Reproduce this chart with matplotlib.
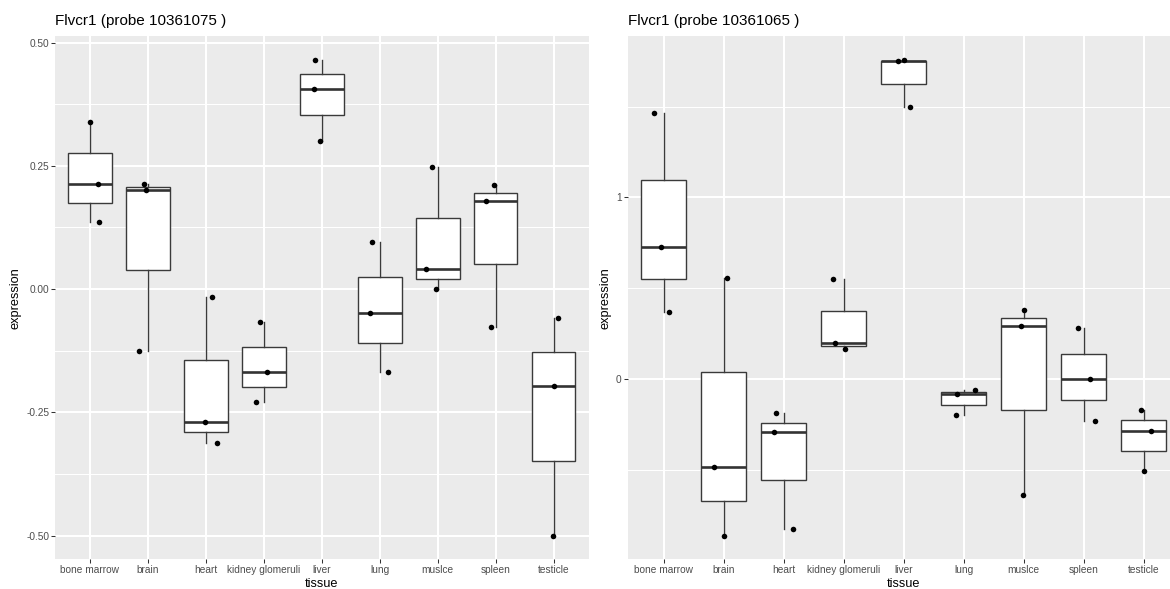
import matplotlib
matplotlib.use("Agg")
import matplotlib.pyplot as plt
from matplotlib.ticker import FixedLocator, FixedFormatter
import numpy as np

plt.rcParams['font.family'] = ['Liberation Sans', 'DejaVu Sans']
plt.rcParams['axes.unicode_minus'] = False

# ---------------- data ----------------
tissues = ["bone marrow", "brain", "heart", "kidney glomeruli", "liver",
           "lung", "muslce", "spleen", "testicle"]

title_left = "Flvcr1 (probe 10361075 )"
title_right = "Flvcr1 (probe 10361065 )"

expr_10361075 = [
    [0.339, 0.213, 0.135],
    [0.214, 0.201, -0.125],
    [-0.017, -0.269, -0.313],
    [-0.0675, -0.169, -0.229],
    [0.465, 0.406, 0.300],
    [0.096, -0.049, -0.169],
    [0.247, 0.040, 0.000],
    [0.210, 0.178, -0.078],
    [-0.059, -0.196, -0.500],
]
jitter_10361075 = [
    [0.0, 0.13, 0.16],
    [-0.07, -0.035, -0.16],
    [0.10, -0.013, 0.195],
    [-0.06, 0.05, -0.136],
    [-0.11, -0.13, -0.04],
    [-0.13, -0.17, 0.136],
    [-0.10, -0.195, -0.033],
    [-0.033, -0.16, -0.085],
    [0.07, 0.0, -0.02],
]

expr_10361065 = [
    [1.467, 0.729, 0.371],
    [0.557, -0.484, -0.861],
    [-0.185, -0.293, -0.823],
    [0.549, 0.198, 0.168],
    [1.758, 1.749, 1.498],
    [-0.059, -0.082, -0.200],
    [0.379, 0.295, -0.637],
    [0.282, 0.000, -0.231],
    [-0.169, -0.286, -0.508],
]
jitter_10361065 = [
    [-0.17, -0.05, 0.08],
    [0.06, -0.17, 0.007],
    [-0.13, -0.17, 0.155],
    [-0.18, -0.137, 0.025],
    [0.0, -0.1, 0.1],
    [0.19, -0.105, -0.13],
    [0.01, -0.05, -0.01],
    [-0.087, 0.11, 0.19],
    [-0.05, 0.117, 0.0],
]

yticks_left = [-0.5, -0.25, 0.0, 0.25, 0.5]
yticklabels_left = ["-0.50", "-0.25", "0.00", "0.25", "0.50"]
yminor_left = [-0.375, -0.125, 0.125, 0.375]

yticks_right = [0, 1]
yticklabels_right = ["0", "1"]
yminor_right = [-0.5, 0.5, 1.5]

# ---------------- figure ----------------
W, H = 1170, 589
fig = plt.figure(figsize=(W / 100, H / 100), dpi=100)

def px_axes(x0, y0, x1, y1):
    return fig.add_axes([x0 / W, 1 - y1 / H, (x1 - x0) / W, (y1 - y0) / H])

ax_l = px_axes(55.2, 36, 588.5, 559.3)
ax_r = px_axes(627.7, 36, 627.7 + 9.2 * 60.0, 559.3)

def draw(ax, data, jit, yt, ytl, ymin):
    n = len(tissues)
    pos = np.arange(1, n + 1)
    ax.set_facecolor('#EBEBEB')
    for s in ax.spines.values():
        s.set_visible(False)
    ax.set_axisbelow(True)
    ax.grid(which='major', color='white', linewidth=1.45)
    ax.grid(which='minor', axis='y', color='white', linewidth=0.75)

    ec = '#3A3A3A'
    ax.boxplot(data, positions=pos, widths=0.75, whis=1.5, showfliers=False,
               showcaps=False, patch_artist=True,
               boxprops=dict(facecolor='white', edgecolor=ec, linewidth=1.0),
               whiskerprops=dict(color=ec, linewidth=1.0),
               medianprops=dict(color='#333333', linewidth=1.9),
               zorder=3)
    for i, (vals, js) in enumerate(zip(data, jit)):
        ax.scatter(pos[i] + np.array(js), vals, s=16, color='black',
                   linewidths=0, zorder=4)

    allv = np.concatenate([np.array(v) for v in data])
    lo, hi = allv.min(), allv.max()
    pad = 0.05 * (hi - lo)
    ax.set_ylim(lo - pad, hi + pad)
    ax.set_xlim(0.4, n + 0.6)

    ax.set_xticks(pos)
    ax.set_xticklabels(tissues)
    ax.yaxis.set_major_locator(FixedLocator(yt))
    ax.yaxis.set_major_formatter(FixedFormatter(ytl))
    ax.yaxis.set_minor_locator(FixedLocator(ymin))
    ax.tick_params(which='major', length=2.6, width=0.75, color='#333333',
                   labelcolor='#4D4D4D', labelsize=7.3, pad=1.8)
    ax.tick_params(which='minor', length=0)

draw(ax_l, expr_10361075, jitter_10361075, yticks_left, yticklabels_left, yminor_left)
draw(ax_r, expr_10361065, jitter_10361065, yticks_right, yticklabels_right, yminor_right)

# titles
fig.text(55.2 / W, 1 - 21 / H, title_left, ha='left', va='center', fontsize=11, color='black')
fig.text(627.7 / W, 1 - 21 / H, title_right, ha='left', va='center', fontsize=11, color='black')

# axis titles
for xc in [(55.2 + 588.5) / 2, (627.7 + 627.7 + 9.2 * 60.0) / 2]:
    fig.text(xc / W, 1 - 584 / H, "tissue", ha='center', va='center', fontsize=9.2, color='black')
for xc in [16, 605]:
    fig.text(xc / W, 1 - 297.7 / H, "expression", ha='center', va='center',
             rotation=90, fontsize=9.2, color='black')

fig.savefig("out.png", dpi=100)
